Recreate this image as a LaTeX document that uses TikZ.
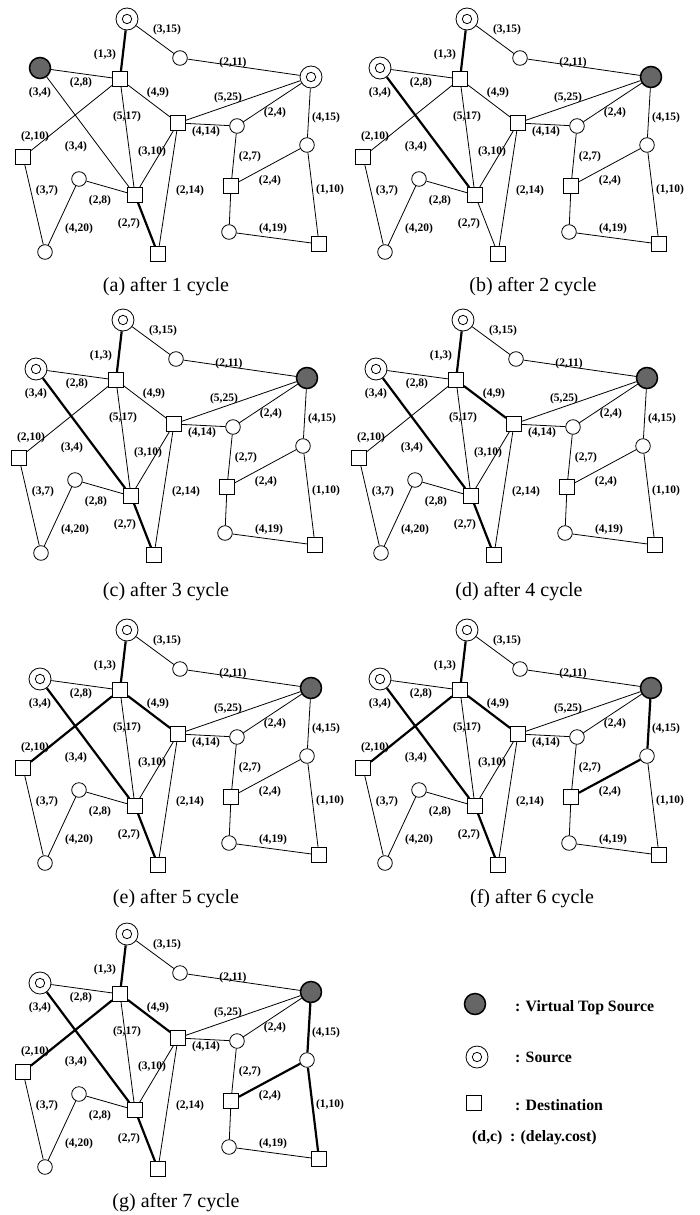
\documentclass[tikz,border=0pt]{standalone}
\usepackage{fontspec}
\setmainfont{Liberation Serif}
\definecolor{vtgray}{RGB}{102,102,102}
\tikzset{
  thinedge/.style={line width=0.8pt},
  thickedge/.style={line width=2.2pt},
  dest/.style={draw, rectangle, line width=0.8pt, fill=white, minimum size=15pt, inner sep=0pt},
  relay/.style={draw, circle, line width=0.8pt, fill=white, minimum size=14.6pt, inner sep=0pt},
  src/.style={draw, circle, line width=0.8pt, fill=white, minimum size=22pt, inner sep=0pt,
    path picture={\draw[line width=0.8pt] (path picture bounding box.center) circle (4.7pt);}},
  vts/.style={draw, circle, line width=1.5pt, fill=vtgray, minimum size=21pt, inner sep=0pt},
  lbl/.style={font=\fontsize{11.5}{12}\selectfont\bfseries, inner sep=0pt},
  captxt/.style={font=\fontsize{20}{22}\selectfont, inner sep=0pt},
  legtxt/.style={font=\fontsize{15.8}{17}\selectfont\bfseries, inner sep=0pt, anchor=west},
  eTA/.style={thinedge}, eLSG/.style={thinedge}, eGJ/.style={thinedge}, eAB/.style={thinedge},
  eAE/.style={thinedge}, eRSD/.style={thinedge}, eDH/.style={thinedge}, eDL/.style={thinedge},
}
\newcommand\drawgraph[2]{%
  \node[src]   (T)  at (127,19)  {};
  \node[relay] (n1) at (180,58)  {};
  \node[#1]    (LS) at (40,68)   {};
  \node[dest]  (A)  at (120,79)  {};
  \node[#2]    (RS) at (311,77)  {};
  \node[dest]  (B)  at (178,123) {};
  \node[relay] (C)  at (237,126) {};
  \node[relay] (D)  at (307,145) {};
  \node[dest]  (E)  at (23,157)  {};
  \node[relay] (F)  at (79,179)  {};
  \node[dest]  (G)  at (135,195) {};
  \node[dest]  (H)  at (231,186) {};
  \node[relay] (I)  at (45,252)  {};
  \node[dest]  (J)  at (158,254) {};
  \node[relay] (K)  at (229,232) {};
  \node[dest]  (L)  at (319,244) {};
  \draw[eTA] (T) -- (A);
  \draw[thinedge] (T) -- (n1);
  \draw[thinedge] (n1) -- (RS);
  \draw[thinedge] (LS) -- (A);
  \draw[eLSG] (LS) -- (G);
  \draw[eAE] (A) -- (E);
  \draw[eAB] (A) -- (B);
  \draw[thinedge] (A) -- (G);
  \draw[thinedge] (B) -- (RS);
  \draw[thinedge] (B) -- (C);
  \draw[thinedge] (C) -- (RS);
  \draw[eRSD] (RS) -- (D);
  \draw[thinedge] (B) -- (G);
  \draw[thinedge] (B) -- (J);
  \draw[thinedge] (C) -- (H);
  \draw[eDH] (D) -- (H);
  \draw[eDL] (D) -- (L);
  \draw[thinedge] (E) -- (I);
  \draw[thinedge] (F) -- (G);
  \draw[thinedge] (F) -- (I);
  \draw[eGJ] (G) -- (J);
  \draw[thinedge] (H) -- (K);
  \draw[thinedge] (K) -- (L);
  \node[lbl] (l1)  at (105,55)  {(1,3)};
  \node[lbl] (l2)  at (167,30)  {(3,15)};
  \node[lbl] (l3)  at (233,63)  {(2,11)};
  \node[lbl] (l4)  at (81,83)   {(2,8)};
  \node[lbl] (l5)  at (40,93)   {(3,4)};
  \node[lbl] (l6)  at (158,93)  {(4,9)};
  \node[lbl] (l7)  at (228,98)  {(5,25)};
  \node[lbl] (l8)  at (275,113) {(2,4)};
  \node[lbl] (l9)  at (326,118) {(4,15)};
  \node[lbl] (l10) at (127,117) {(5,17)};
  \node[lbl] (l11) at (206,132) {(4,14)};
  \node[lbl] (l12) at (35,137)  {(2,10)};
  \node[lbl] (l13) at (76,147)  {(3,4)};
  \node[lbl] (l14) at (152,152) {(3,10)};
  \node[lbl] (l15) at (250,157) {(2,7)};
  \node[lbl] (l16) at (270,181) {(2,4)};
  \node[lbl] (l17) at (190,191) {(2,14)};
  \node[lbl] (l18) at (330,190) {(1,10)};
  \node[lbl] (l19) at (47,191)  {(3,7)};
  \node[lbl] (l20) at (100,201) {(2,8)};
  \node[lbl] (l21) at (79,229)  {(4,20)};
  \node[lbl] (l22) at (129,224) {(2,7)};
  \node[lbl] (l23) at (273,229) {(4,19)};
}
\begin{document}
\begin{tikzpicture}[x=1pt,y=-1pt]
\useasboundingbox (0,0) rectangle (699,1215);
% (a)
\begin{scope}[name prefix=a-, eTA/.style={thickedge}, eGJ/.style={thickedge}]
  \drawgraph{vts}{src}
\end{scope}
\node[captxt] (capa) at (166,287) {(a) after 1 cycle};
% (b)
\begin{scope}[shift={(340,0)}, name prefix=b-, eTA/.style={thickedge}, eLSG/.style={thickedge}]
  \drawgraph{src}{vts}
\end{scope}
\node[captxt] (capb) at (533,287) {(b) after 2 cycle};
% (c)
\begin{scope}[shift={(-4,301)}, name prefix=c-, eTA/.style={thickedge}, eLSG/.style={thickedge}, eGJ/.style={thickedge}]
  \drawgraph{src}{vts}
\end{scope}
\node[captxt] (capc) at (166,592) {(c) after 3 cycle};
% (d)
\begin{scope}[shift={(336,301)}, name prefix=d-, eTA/.style={thickedge}, eLSG/.style={thickedge}, eGJ/.style={thickedge}, eAB/.style={thickedge}]
  \drawgraph{src}{vts}
\end{scope}
\node[captxt] (capd) at (519,592) {(d) after 4 cycle};
% (e)
\begin{scope}[shift={(0,611)}, name prefix=e-, eTA/.style={thickedge}, eLSG/.style={thickedge}, eGJ/.style={thickedge}, eAB/.style={thickedge}, eAE/.style={thickedge}]
  \drawgraph{src}{vts}
\end{scope}
\node[captxt] (cape) at (176,899) {(e) after 5 cycle};
% (f)
\begin{scope}[shift={(340,611)}, name prefix=f-, eTA/.style={thickedge}, eLSG/.style={thickedge}, eGJ/.style={thickedge}, eAB/.style={thickedge}, eAE/.style={thickedge}, eRSD/.style={thickedge}, eDH/.style={thickedge}]
  \drawgraph{src}{vts}
\end{scope}
\node[captxt] (capf) at (532,899) {(f) after 6 cycle};
% (g)
\begin{scope}[shift={(0,915)}, name prefix=g-, eTA/.style={thickedge}, eLSG/.style={thickedge}, eGJ/.style={thickedge}, eAB/.style={thickedge}, eAE/.style={thickedge}, eRSD/.style={thickedge}, eDH/.style={thickedge}, eDL/.style={thickedge}]
  \drawgraph{src}{vts}
\end{scope}
\node[captxt] (capg) at (176,1203) {(g) after 7 cycle};
% legend
\node[vts]  (lv)   at (475,1004) {};
\node[legtxt]  (lvt)  at (515,1008) {: Virtual Top Source};
\node[src]  (ls)   at (477,1057) {};
\node[legtxt]  (lst)  at (515,1057) {: Source};
\node[dest] (ld)   at (474,1103) {};
\node[legtxt]  (ldt)  at (515,1105) {: Destination};
\node[legtxt]  (ldc)  at (472,1138) {(d,c)};
\node[legtxt]  (ldct) at (510,1138) {: (delay.cost)};
\end{tikzpicture}
\end{document}
